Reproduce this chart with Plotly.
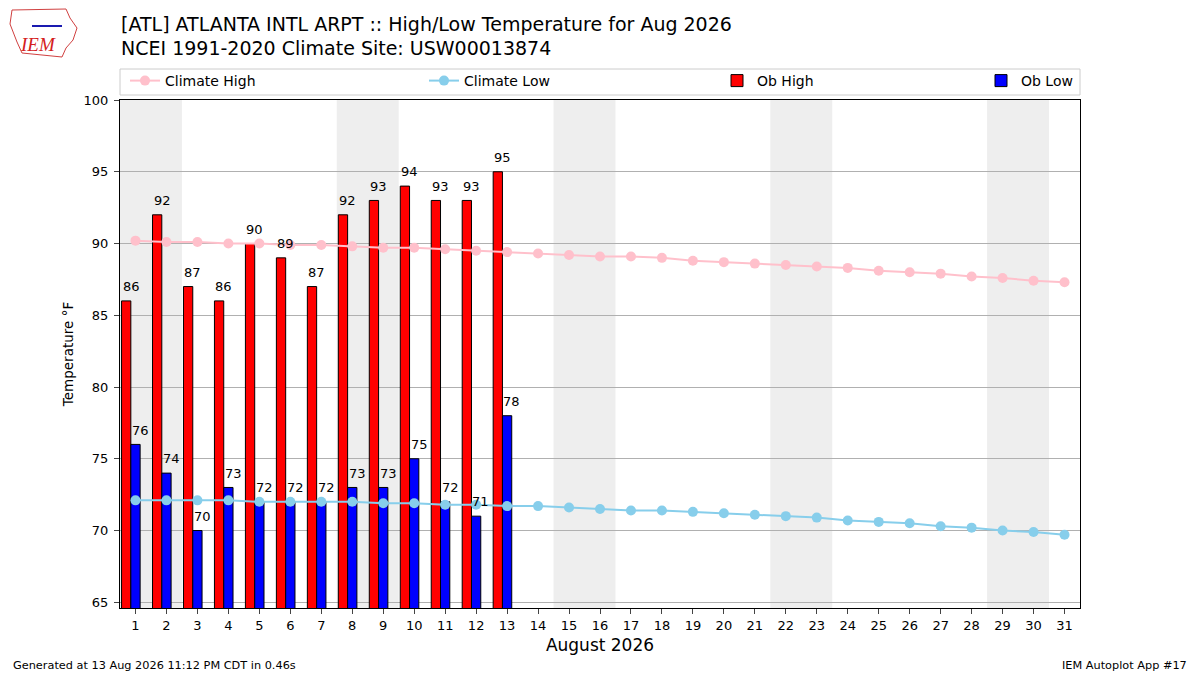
import plotly.graph_objects as go

# August 2026 days
days = list(range(1, 32))
ob_days = days[:13]

# observed highs / lows (deg F), Aug 1-13
ob_high = [86, 92, 87, 86, 90, 89, 87, 92, 93, 94, 93, 93, 95]
ob_low = [76, 74, 70, 73, 72, 72, 72, 73, 73, 75, 72, 71, 78]

# NCEI 1991-2020 daily climate
clim_high = [90.2, 90.1, 90.1, 90.0, 90.0, 89.9, 89.9, 89.8, 89.7, 89.7, 89.6,
             89.5, 89.4, 89.3, 89.2, 89.1, 89.1, 89.0, 88.8, 88.7, 88.6, 88.5,
             88.4, 88.3, 88.1, 88.0, 87.9, 87.7, 87.6, 87.4, 87.3]
clim_low = [72.1, 72.1, 72.1, 72.1, 72.0, 72.0, 72.0, 72.0, 71.9, 71.9, 71.8,
            71.8, 71.7, 71.7, 71.6, 71.5, 71.4, 71.4, 71.3, 71.2, 71.1, 71.0,
            70.9, 70.7, 70.6, 70.5, 70.3, 70.2, 70.0, 69.9, 69.7]

# first day of each weekend (Sat)
weekend_starts = [1, 8, 15, 22, 29]

FONT = "DejaVu Sans"
W, H = 1200, 675
OFF = 8  # page body margin
L, T = 120 - OFF, 100 - OFF
PW, PH = 960, 508
R, B = W - L - PW, H - T - PH


def px_x(p):
    # reference page pixel -> paper x
    return (p - OFF - L) / PW


def px_y(p):
    return (T + PH - (p - OFF)) / PH


fig = go.Figure()

fig.add_trace(go.Scatter(
    x=days, y=clim_high, mode="lines+markers", name="Climate High",
    line=dict(color="pink", width=2), marker=dict(color="pink", size=10),
    legend="legend", showlegend=True))
fig.add_trace(go.Scatter(
    x=days, y=clim_low, mode="lines+markers", name="Climate Low",
    line=dict(color="skyblue", width=2), marker=dict(color="skyblue", size=10),
    legend="legend2", showlegend=True))
fig.add_trace(go.Bar(
    x=ob_days, y=ob_high, name="Ob High", width=0.3, offset=-0.45,
    marker=dict(color="red", line=dict(color="black", width=1)),
    legend="legend3", showlegend=True))
fig.add_trace(go.Bar(
    x=ob_days, y=ob_low, name="Ob Low", width=0.3, offset=-0.15,
    marker=dict(color="blue", line=dict(color="black", width=1)),
    legend="legend4", showlegend=True))

# value labels
for d, hi, lo in zip(ob_days, ob_high, ob_low):
    fig.add_annotation(x=d - 0.45, y=hi + 0.4, text=str(hi), showarrow=False,
                       xanchor="left", yanchor="bottom", borderpad=0,
                       font=dict(size=13, color="black"))
    fig.add_annotation(x=d - 0.15, y=lo + 0.4, text=str(lo), showarrow=False,
                       xanchor="left", yanchor="bottom", borderpad=0,
                       font=dict(size=13, color="black"))

# weekend shading
for s in weekend_starts:
    fig.add_vrect(x0=s - 0.5, x1=s + 1.5, fillcolor="#eeeeee", line_width=0,
                  layer="below")

# legend frame
fig.add_shape(type="rect", xref="paper", yref="paper",
              x0=px_x(120), x1=px_x(1080), y0=px_y(95), y1=px_y(69),
              line=dict(color="#cccccc", width=1), fillcolor="white")

leg = dict(orientation="h", yanchor="middle", y=px_y(81), xanchor="left",
           bgcolor="rgba(0,0,0,0)", font=dict(size=14, family=FONT, color="black"))
text_starts = [165, 464, 757, 1021]

# titles
fig.add_annotation(xref="paper", yref="paper", x=px_x(119), y=px_y(24),
                   xanchor="left", yanchor="middle", showarrow=False,
                   text="[ATL] ATLANTA INTL ARPT :: High/Low Temperature for Aug 2026",
                   font=dict(size=19, color="black"))
fig.add_annotation(xref="paper", yref="paper", x=px_x(119), y=px_y(48),
                   xanchor="left", yanchor="middle", showarrow=False,
                   text="NCEI 1991-2020 Climate Site: USW00013874",
                   font=dict(size=19, color="black"))

# footer
fig.add_annotation(xref="paper", yref="paper", x=px_x(11), y=px_y(665),
                   xanchor="left", yanchor="middle", showarrow=False,
                   text="Generated at 13 Aug 2026 11:12 PM CDT in 0.46s",
                   font=dict(size=11.3, color="black"))
fig.add_annotation(xref="paper", yref="paper", x=px_x(1189), y=px_y(665),
                   xanchor="right", yanchor="middle", showarrow=False,
                   text="IEM Autoplot App #17", font=dict(size=11.3, color="black"))

# IEM logo (rough)
outline = [(12, 10), (66, 9), (70, 18), (77, 28), (73, 40), (66, 48), (62, 57),
           (22, 53), (17, 42), (10, 24)]
path = "M " + " L ".join(f"{px_x(a)},{px_y(b)}" for a, b in outline) + " Z"
fig.add_shape(type="path", xref="paper", yref="paper", path=path,
              line=dict(color="#d04040", width=1))
fig.add_shape(type="line", xref="paper", yref="paper", x0=px_x(32), x1=px_x(62),
              y0=px_y(26), y1=px_y(26), line=dict(color="#1a1ab0", width=2))
fig.add_annotation(xref="paper", yref="paper", x=px_x(38), y=px_y(45),
                   xanchor="center", yanchor="middle", showarrow=False,
                   text="<i>IEM</i>",
                   font=dict(size=19, color="#d42020", family="Liberation Serif"))

fig.update_layout(
    width=W, height=H,
    margin=dict(l=L, r=R, t=T, b=B),
    plot_bgcolor="white", paper_bgcolor="white",
    font=dict(family=FONT, size=13, color="black"),
    barmode="overlay",
    showlegend=True,
    legend=dict(leg, x=px_x(text_starts[0] - 40)),
    legend2=dict(leg, x=px_x(text_starts[1] - 40)),
    legend3=dict(leg, x=px_x(text_starts[2] - 40)),
    legend4=dict(leg, x=px_x(text_starts[3] - 40)),
    xaxis=dict(range=[0.5, 31.5], tickvals=days, ticks="outside", ticklen=5,
               showline=True, mirror=True, linecolor="black", showgrid=False,
               zeroline=False, title=dict(text="August 2026", font=dict(size=17),
                                          standoff=7)),
    yaxis=dict(range=[64.6, 100], tickvals=[65, 70, 75, 80, 85, 90, 95, 100],
               ticks="outside", ticklen=5, showline=True, mirror=True,
               linecolor="black", showgrid=True, gridcolor="#b0b0b0",
               zeroline=False, ticklabelstandoff=3,
               title=dict(text="Temperature °F", font=dict(size=13.5), standoff=6)),
)

fig.write_html("out.html")
